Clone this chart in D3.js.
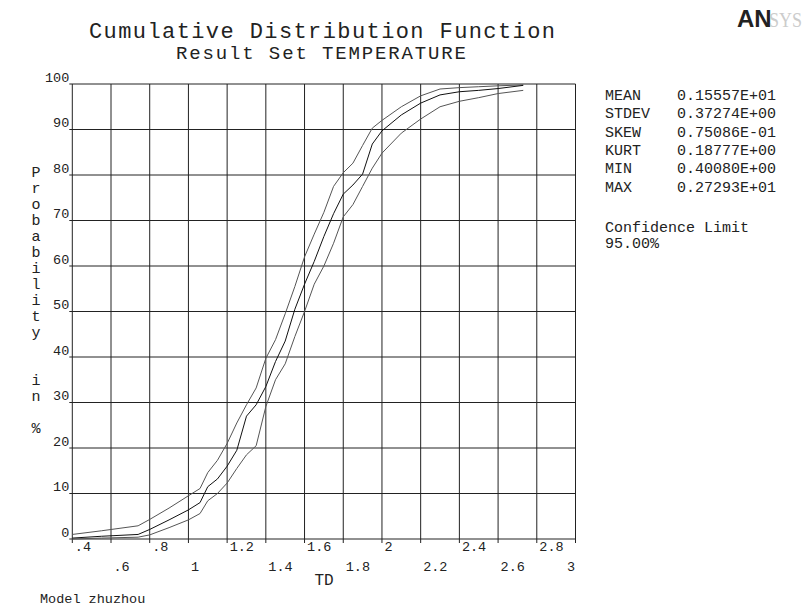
<!DOCTYPE html>
<html>
<head>
<meta charset="utf-8">
<script src="https://cdn.jsdelivr.net/npm/d3@7"></script>
<style>
  body { margin: 0; background: #fff; }
  text { font-family: "Courier New", "Liberation Mono", monospace; fill: #222; }
</style>
</head>
<body>
<div id="chart"></div>
<script>
// values
var tdValues = [0.4, 0.55, 0.74, 0.8, 0.9, 1.0, 1.06, 1.1, 1.15, 1.2, 1.25, 1.3, 1.35, 1.4, 1.45, 1.5,
  1.55, 1.6, 1.65, 1.7, 1.75, 1.8, 1.85, 1.9, 1.95, 2.0, 2.1, 2.2, 2.3, 2.4, 2.5, 2.6, 2.73];
var upperLimit = [1.0, 1.8, 2.9, 4.3, 6.8, 9.5, 11.1, 14.6, 17.3, 21.0, 25.5, 29.5, 33.2, 39.7, 43.8, 49.5,
  55.5, 62.0, 67.0, 71.8, 77.5, 80.5, 82.6, 86.5, 90.3, 92.0, 95.0, 97.4, 98.9, 99.2, 99.4, 99.6, 99.8];
var cdfValues = [0.2, 0.6, 1.0, 2.1, 4.2, 6.4, 8.0, 11.5, 13.2, 16.0, 19.5, 27.0, 29.5, 33.5, 39.0, 43.5,
  50.5, 56.0, 61.0, 66.5, 71.5, 75.8, 77.8, 80.2, 86.8, 89.7, 93.2, 95.8, 97.6, 98.3, 98.6, 99.0, 99.7];
var lowerLimit = [0.0, 0.2, 0.4, 0.9, 2.5, 4.2, 5.6, 8.4, 10.0, 12.3, 15.5, 18.5, 20.5, 29.1, 35.0, 38.5,
  44.5, 50.0, 56.0, 60.0, 65.0, 70.8, 73.5, 77.5, 81.5, 84.8, 89.2, 92.3, 95.0, 96.2, 97.0, 97.9, 98.6];

var xTicks = [0.4, 0.6, 0.8, 1.0, 1.2, 1.4, 1.6, 1.8, 2.0, 2.2, 2.4, 2.6, 2.8, 3.0];
var xTickLabels = [".4", ".6", ".8", "1", "1.2", "1.4", "1.6", "1.8", "2", "2.2", "2.4", "2.6", "2.8", "3"];
var yTicks = [0, 10, 20, 30, 40, 50, 60, 70, 80, 90, 100];

var statNames = ["MEAN", "STDEV", "SKEW", "KURT", "MIN", "MAX"];
var statValues = ["0.15557E+01", "0.37274E+00", "0.75086E-01", "0.18777E+00", "0.40080E+00", "0.27293E+01"];

var svg = d3.select("#chart").append("svg")
  .attr("width", 808)
  .attr("height", 607);

var x = d3.scaleLinear().domain([0.4, 3.0]).range([72.3, 575.5]);
var y = d3.scaleLinear().domain([0, 100]).range([539, 84]);

// grid
svg.append("g").selectAll("line.v").data(xTicks).enter().append("line")
  .attr("x1", function(d){ return x(d); })
  .attr("x2", function(d){ return x(d); })
  .attr("y1", y(100))
  .attr("y2", y(0) + 4)
  .attr("stroke", "#222");

svg.append("g").selectAll("line.h").data(yTicks).enter().append("line")
  .attr("x1", x(0.4) - 3)
  .attr("x2", x(3.0))
  .attr("y1", function(d){ return y(d); })
  .attr("y2", function(d){ return y(d); })
  .attr("stroke", "#222");

// x axis labels, two staggered rows
var xAxis = svg.append("g")
  .attr("transform", "translate(0," + y(0) + ")")
  .call(d3.axisBottom(x).tickValues(xTicks).tickSize(0)
    .tickFormat(function(d, i){ return xTickLabels[i]; }));
xAxis.select(".domain").remove();
xAxis.selectAll("text")
  .attr("font-size", "13.5px")
  .attr("font-family", "'Courier New', 'Liberation Mono', monospace")
  .attr("fill", "#222")
  .attr("dy", 0)
  .attr("text-anchor", function(d, i){ return i == xTicks.length - 1 ? "end" : "start"; })
  .attr("x", function(d, i){ return i == xTicks.length - 1 ? -1 : 2; })
  .attr("y", function(d, i){ return i % 2 == 0 ? 12 : 32; });

var yAxis = svg.append("g")
  .attr("transform", "translate(" + x(0.4) + ",0)")
  .call(d3.axisLeft(y).tickValues(yTicks).tickSize(0));
yAxis.select(".domain").remove();
yAxis.selectAll("text")
  .attr("font-size", "13.5px")
  .attr("font-family", "'Courier New', 'Liberation Mono', monospace")
  .attr("fill", "#222")
  .attr("dy", -3)
  .attr("x", -3);

// curves
var line = d3.line()
  .x(function(d, i){ return x(tdValues[i]); })
  .y(function(d){ return y(d); });

[upperLimit, cdfValues, lowerLimit].forEach(function(s, k){
  svg.append("path")
    .attr("d", line(s))
    .attr("fill", "none")
    .attr("stroke", k == 1 ? "#111" : "#555")
    .attr("stroke-width", 1);
});

// titles
svg.append("text").attr("x", 322).attr("y", 38).attr("text-anchor", "middle")
  .attr("font-size", "22px").attr("textLength", 466).text("Cumulative Distribution Function");
svg.append("text").attr("x", 321).attr("y", 59).attr("text-anchor", "middle")
  .attr("font-size", "19px").attr("textLength", 290).text("Result Set TEMPERATURE");

// y title, one letter per line
var yTitle = "Probability  in %".split("");
svg.append("g").selectAll("text").data(yTitle).enter().append("text")
  .attr("x", 36)
  .attr("y", function(d, i){ return 177 + i * 16; })
  .attr("text-anchor", "middle")
  .attr("font-size", "15px")
  .text(function(d){ return d; });

svg.append("text").attr("x", 324).attr("y", 585).attr("text-anchor", "middle")
  .attr("font-size", "16px").text("TD");
svg.append("text").attr("x", 40).attr("y", 603)
  .attr("font-size", "13.5px").text("Model zhuzhou");

// statistics box
var stats = svg.append("g").attr("font-size", "15px");
statNames.forEach(function(n, i){
  stats.append("text").attr("x", 605).attr("y", 100 + i * 18.3).text(n);
  stats.append("text").attr("x", 677).attr("y", 100 + i * 18.3).text(statValues[i]);
});
stats.append("text").attr("x", 605).attr("y", 232).text("Confidence Limit");
stats.append("text").attr("x", 605).attr("y", 248).text("95.00%");

// logo
svg.append("text").attr("x", 737).attr("y", 27)
  .style("font-family", "'Liberation Sans', Arial, sans-serif")
  .attr("font-weight", "bold").attr("font-size", "24px").attr("fill", "#000")
  .text("AN");
svg.append("text").attr("x", 769).attr("y", 27)
  .style("font-family", "'Liberation Serif', serif")
  .attr("font-size", "22px").style("fill", "#ccc")
  .attr("textLength", 33).attr("lengthAdjust", "spacingAndGlyphs")
  .text("SYS");
</script>
</body>
</html>
